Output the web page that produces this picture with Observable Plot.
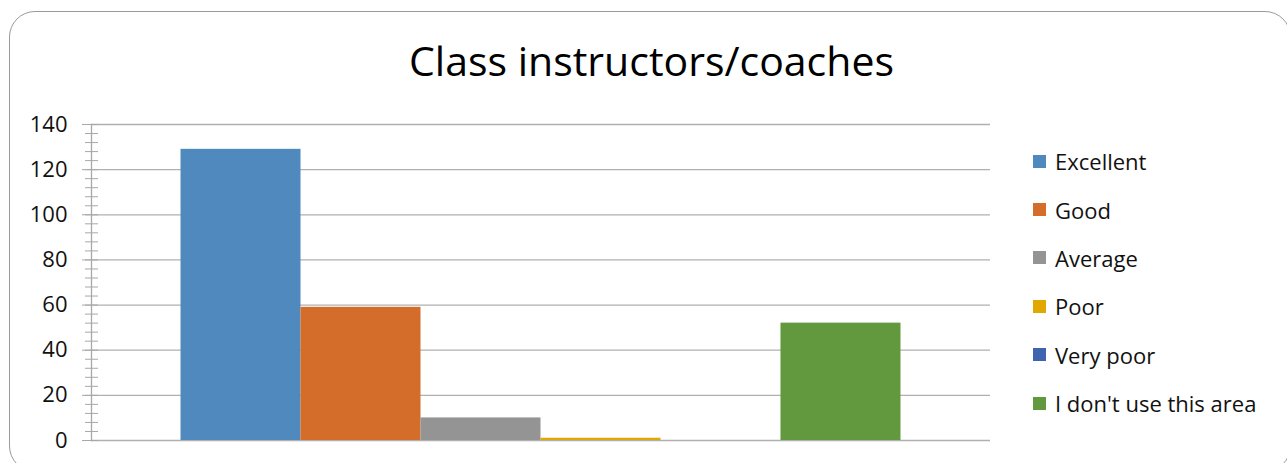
<!DOCTYPE html>
<html>
<head>
<meta charset="utf-8">
<script src="https://cdn.jsdelivr.net/npm/d3@7"></script>
<script src="https://cdn.jsdelivr.net/npm/@observablehq/plot@0.6"></script>
<style>
  html, body { margin: 0; padding: 0; background: #fff; overflow: hidden; }
  #wrap { position: relative; width: 1287px; height: 463px; overflow: hidden; font-family: "Open Sans", "Noto Sans", sans-serif; }
  #border { position: absolute; left: 9px; top: 11px; width: 1282px; height: 461px; border: 1.5px solid #9a9a9a; border-radius: 26px; box-sizing: border-box; }
  #title { position: absolute; left: 0; width: 1303px; top: 40px; text-align: center; font-size: 41px; line-height: 41px; color: #000; }
  #chart { position: absolute; left: 0; top: 0; }
  #legend { position: absolute; left: 1033px; top: 137px; }
  .row { display: flex; align-items: center; height: 48.4px; font-size: 22px; color: #111; }
  .sw { width: 13px; height: 13px; margin-right: 9px; }
</style>
</head>
<body>
<div id="wrap">
  <div id="border"></div>
  <div id="title">Class instructors/coaches</div>
  <div id="chart"></div>
  <div id="legend"></div>
</div>
<script>
const categories = ["Excellent", "Good", "Average", "Poor", "Very poor", "I don't use this area"];
const values = [129, 59, 10, 1, 0, 52];
const colors = ["#5089bd", "#d46d2a", "#949494", "#e0a800", "#3e64b0", "#62993e"];
const yTicks = [0, 20, 40, 60, 80, 100, 120, 140];
const yMinorTicks = d3.range(0, 141, 4);

const data = categories.map((c, i) => ({category: c, value: values[i]}));

const chart = Plot.plot({
  width: 1287,
  height: 463,
  marginLeft: 91,
  marginRight: 297,
  marginTop: 124,
  marginBottom: 23,
  style: {fontSize: "22px", fontFamily: "'Open Sans', 'Noto Sans', sans-serif", color: "#111", background: "transparent"},
  x: {domain: categories, paddingInner: 0, paddingOuter: 0.746, round: false, axis: null},
  y: {domain: [0, 140]},
  color: {domain: categories, range: colors},
  marks: [
    Plot.gridY(yTicks, {stroke: "#b0b0b0", strokeOpacity: 1, strokeWidth: 1.3}),
    Plot.barY(data, {x: "category", y: "value", fill: "category"}),
    Plot.frame({anchor: "left", stroke: "#a8a8a8", strokeWidth: 1.3}),
    Plot.axisY(yTicks, {tickSize: 9, tickPadding: 15, stroke: "#a8a8a8", label: null, fill: "#111"}),
    Plot.axisY(yMinorTicks, {tickSize: 13, dx: 7, tickFormat: () => "", label: null, stroke: "#a8a8a8"})
  ]
});
document.getElementById("chart").appendChild(chart);

const legend = document.getElementById("legend");
categories.forEach((c, i) => {
  const row = document.createElement("div");
  row.className = "row";
  const sw = document.createElement("div");
  sw.className = "sw";
  sw.style.background = colors[i];
  const t = document.createElement("span");
  t.textContent = c;
  row.appendChild(sw);
  row.appendChild(t);
  legend.appendChild(row);
});
</script>
</body>
</html>
